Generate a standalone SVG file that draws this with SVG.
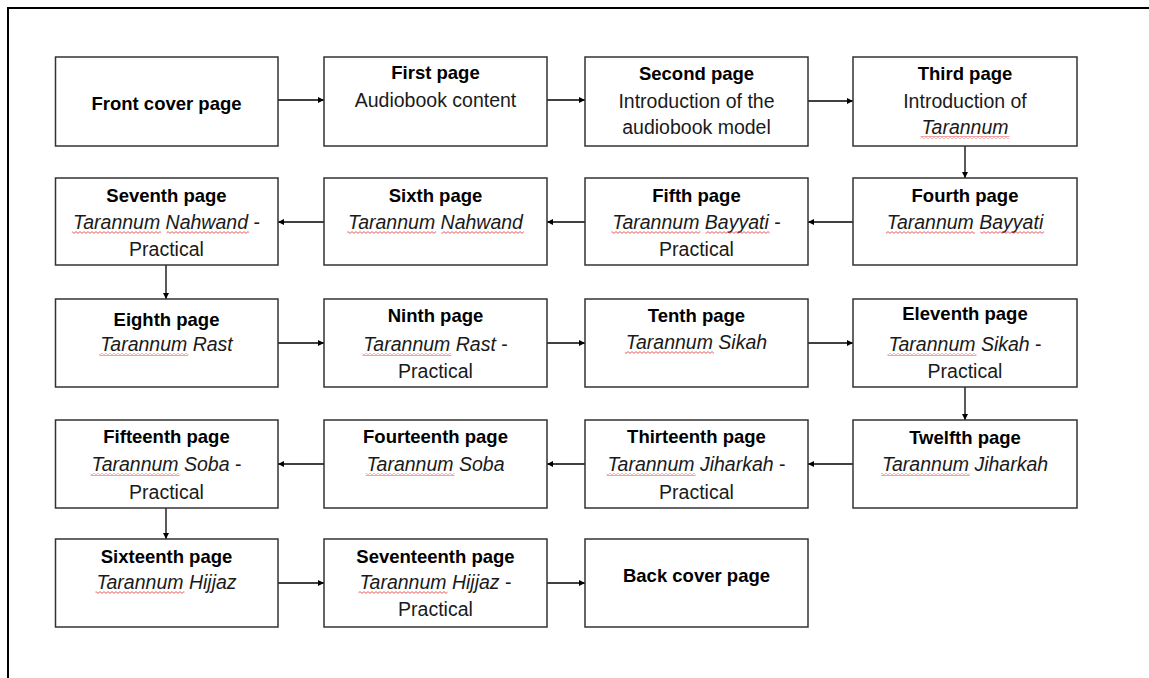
<svg xmlns="http://www.w3.org/2000/svg" width="1149" height="678" viewBox="0 0 1149 678">
<style>
.box{fill:#fff;stroke:#333;stroke-width:1.5}
.t{font-family:"Liberation Sans",Arial,sans-serif;font-weight:bold;font-size:18.5px;fill:#000;text-anchor:middle}
.r{font-family:"Liberation Sans",Arial,sans-serif;font-size:19.5px;fill:#1a1a1a;text-anchor:middle}
.i{font-style:italic}
.c{stroke:#000;stroke-width:1.3;fill:none;marker-end:url(#ah)}
.sq{fill:url(#wave)}
</style>
<defs>
<marker id="ah" viewBox="0 0 8 8" refX="8" refY="4" markerWidth="6" markerHeight="6" markerUnits="userSpaceOnUse" orient="auto">
<path d="M0,0 L8,4 L0,8 Z" fill="#000"/>
</marker>
<pattern id="wave" x="0" y="0" width="4" height="3" patternUnits="userSpaceOnUse">
<path d="M0,0.6 L2,2.4 L4,0.6" stroke="#e03030" stroke-width="0.8" fill="none"/>
</pattern>
</defs>
<rect width="1149" height="678" fill="#fff"/>
<g id="frame" stroke="#000" stroke-width="2" fill="none">
<line x1="7" y1="8" x2="1149" y2="8"/>
<line x1="8" y1="7" x2="8" y2="678"/>
</g>
<g id="connectors">
<line class="c" x1="278" y1="100" x2="324" y2="100"/>
<line class="c" x1="547" y1="100" x2="585" y2="100"/>
<line class="c" x1="808" y1="101" x2="853" y2="101"/>
<line class="c" x1="965" y1="146" x2="965" y2="178"/>
<line class="c" x1="853" y1="222" x2="808" y2="222"/>
<line class="c" x1="585" y1="222" x2="547" y2="222"/>
<line class="c" x1="324" y1="222" x2="278" y2="222"/>
<line class="c" x1="166" y1="265" x2="166" y2="299"/>
<line class="c" x1="278" y1="343" x2="324" y2="343"/>
<line class="c" x1="547" y1="343" x2="585" y2="343"/>
<line class="c" x1="808" y1="343" x2="853" y2="343"/>
<line class="c" x1="965" y1="387" x2="965" y2="420"/>
<line class="c" x1="853" y1="464" x2="808" y2="464"/>
<line class="c" x1="585" y1="464" x2="547" y2="464"/>
<line class="c" x1="324" y1="464" x2="278" y2="464"/>
<line class="c" x1="166" y1="508" x2="166" y2="539"/>
<line class="c" x1="278" y1="583" x2="324" y2="583"/>
<line class="c" x1="547" y1="583" x2="585" y2="583"/>
</g>
<g id="front-cover">
<rect class="box" x="55.5" y="57" width="222.5" height="89"/>
<text class="t" x="166.5" y="110">Front cover page</text>
</g>
<g id="first-page">
<rect class="box" x="324" y="57" width="223" height="89"/>
<text class="t" x="435.5" y="79">First page</text>
<text class="r" x="435.5" y="107">Audiobook content</text>
</g>
<g id="second-page">
<rect class="box" x="585" y="57" width="223" height="89"/>
<text class="t" x="696.5" y="80">Second page</text>
<text class="r" x="696.5" y="108">Introduction of the</text>
<text class="r" x="696.5" y="134">audiobook model</text>
</g>
<g id="third-page">
<rect class="box" x="853" y="57" width="224" height="89"/>
<text class="t" x="965" y="80">Third page</text>
<text class="r" x="965" y="108">Introduction of</text>
<text class="r i" x="965" y="134">Tarannum</text>
<rect class="sq" x="920.6" y="136" width="88.8" height="3"/>
</g>
<g id="fourth-page">
<rect class="box" x="853" y="178" width="224" height="87"/>
<text class="t" x="965" y="202">Fourth page</text>
<text class="r i" x="965" y="229">Tarannum Bayyati</text>
<rect class="sq" x="885.9" y="231" width="88.9" height="3"/>
<rect class="sq" x="980.2" y="231" width="63.9" height="3"/>
</g>
<g id="fifth-page">
<rect class="box" x="585" y="178" width="223" height="87"/>
<text class="t" x="696.5" y="202">Fifth page</text>
<text class="r" x="696.5" y="229"><tspan class="i">Tarannum Bayyati</tspan> -</text>
<text class="r" x="696.5" y="256">Practical</text>
<rect class="sq" x="611.4" y="231" width="88.9" height="3"/>
<rect class="sq" x="705.7" y="231" width="63.9" height="3"/>
</g>
<g id="sixth-page">
<rect class="box" x="324" y="178" width="223" height="87"/>
<text class="t" x="435.5" y="202">Sixth page</text>
<text class="r i" x="435.5" y="229">Tarannum Nahwand</text>
<rect class="sq" x="347.2" y="231" width="88.9" height="3"/>
<rect class="sq" x="441.5" y="231" width="82.4" height="3"/>
</g>
<g id="seventh-page">
<rect class="box" x="55.5" y="178" width="222.5" height="87"/>
<text class="t" x="166.5" y="202">Seventh page</text>
<text class="r" x="166.5" y="229"><tspan class="i">Tarannum Nahwand</tspan> -</text>
<text class="r" x="166.5" y="256">Practical</text>
<rect class="sq" x="72.2" y="231" width="88.9" height="3"/>
<rect class="sq" x="166.5" y="231" width="82.4" height="3"/>
</g>
<g id="eighth-page">
<rect class="box" x="55.5" y="299" width="222.5" height="88"/>
<text class="t" x="166.5" y="326">Eighth page</text>
<text class="r i" x="166.5" y="351">Tarannum Rast</text>
<rect class="sq" x="99.3" y="353" width="88.9" height="3"/>
</g>
<g id="ninth-page">
<rect class="box" x="324" y="299" width="223" height="88"/>
<text class="t" x="435.5" y="322">Ninth page</text>
<text class="r" x="435.5" y="351"><tspan class="i">Tarannum Rast</tspan> -</text>
<text class="r" x="435.5" y="378">Practical</text>
<rect class="sq" x="362.4" y="353" width="88.9" height="3"/>
</g>
<g id="tenth-page">
<rect class="box" x="585" y="299" width="223" height="88"/>
<text class="t" x="696.5" y="322">Tenth page</text>
<text class="r i" x="696.5" y="349">Tarannum Sikah</text>
<rect class="sq" x="625" y="351" width="88.9" height="3"/>
</g>
<g id="eleventh-page">
<rect class="box" x="853" y="299" width="224" height="88"/>
<text class="t" x="965" y="320">Eleventh page</text>
<text class="r" x="965" y="351"><tspan class="i">Tarannum Sikah</tspan> -</text>
<text class="r" x="965" y="378">Practical</text>
<rect class="sq" x="887.5" y="353" width="88.9" height="3"/>
</g>
<g id="twelfth-page">
<rect class="box" x="853" y="420" width="224" height="88"/>
<text class="t" x="965" y="444">Twelfth page</text>
<text class="r i" x="965" y="471">Tarannum Jiharkah</text>
<rect class="sq" x="881" y="473" width="88.9" height="3"/>
</g>
<g id="thirteenth-page">
<rect class="box" x="585" y="420" width="223" height="88"/>
<text class="t" x="696.5" y="443">Thirteenth page</text>
<text class="r" x="696.5" y="471"><tspan class="i">Tarannum Jiharkah</tspan> -</text>
<text class="r" x="696.5" y="499">Practical</text>
<rect class="sq" x="606.6" y="473" width="88.9" height="3"/>
</g>
<g id="fourteenth-page">
<rect class="box" x="324" y="420" width="223" height="88"/>
<text class="t" x="435.5" y="443">Fourteenth page</text>
<text class="r i" x="435.5" y="471">Tarannum Soba</text>
<rect class="sq" x="365.6" y="473" width="88.9" height="3"/>
</g>
<g id="fifteenth-page">
<rect class="box" x="55.5" y="420" width="222.5" height="88"/>
<text class="t" x="166.5" y="443">Fifteenth page</text>
<text class="r" x="166.5" y="471"><tspan class="i">Tarannum Soba</tspan> -</text>
<text class="r" x="166.5" y="499">Practical</text>
<rect class="sq" x="90.6" y="473" width="88.9" height="3"/>
</g>
<g id="sixteenth-page">
<rect class="box" x="55.5" y="539" width="222.5" height="88"/>
<text class="t" x="166.5" y="563">Sixteenth page</text>
<text class="r i" x="166.5" y="589">Tarannum Hijjaz</text>
<rect class="sq" x="95.5" y="591" width="88.9" height="3"/>
</g>
<g id="seventeenth-page">
<rect class="box" x="324" y="539" width="223" height="88"/>
<text class="t" x="435.5" y="563">Seventeenth page</text>
<text class="r" x="435.5" y="589"><tspan class="i">Tarannum Hijjaz</tspan> -</text>
<text class="r" x="435.5" y="616">Practical</text>
<rect class="sq" x="358.6" y="591" width="88.9" height="3"/>
</g>
<g id="back-cover">
<rect class="box" x="585" y="539" width="223" height="88"/>
<text class="t" x="696.5" y="582">Back cover page</text>
</g>
</svg>
